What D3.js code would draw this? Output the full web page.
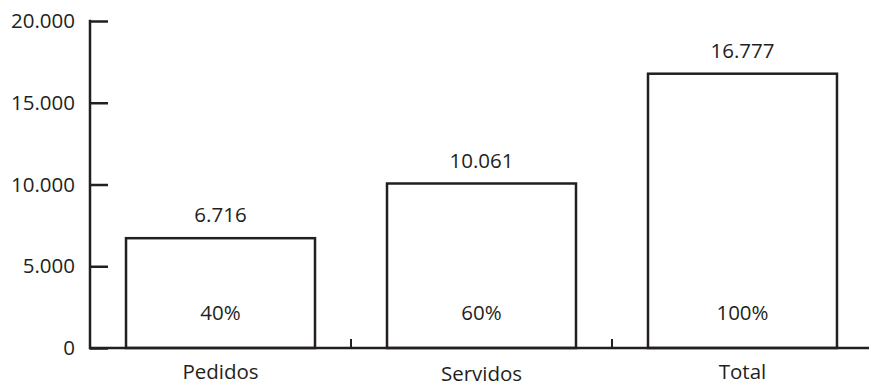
<!DOCTYPE html>
<html>
<head>
<meta charset="utf-8">
<script src="https://cdn.jsdelivr.net/npm/d3@7"></script>
<style>
  html, body { margin: 0; padding: 0; background: #fff; }
  svg { display: block; }
  text { font-family: "Open Sans", sans-serif; fill: #231f20; }
</style>
</head>
<body>
<svg id="chart" width="869" height="388"></svg>
<script>
const categories = ["Pedidos", "Servidos", "Total"];
const values = [6716, 10061, 16777];
const valueLabels = ["6.716", "10.061", "16.777"];
const percentLabels = ["40%", "60%", "100%"];
const yTicks = [0, 5000, 10000, 15000, 20000];
const yTickLabels = ["0", "5.000", "10.000", "15.000", "20.000"];

const svg = d3.select("#chart");
const ink = "#231f20";
const fs = 20.5;
const mLeft = 90, mRight = 873, mTop = 21, mBottom = 348;

const x = d3.scaleBand().domain(categories).range([mLeft, mRight])
  .paddingInner(0.2759).paddingOuter(0.138);
const xStep = d3.scaleBand().domain(categories).range([mLeft, mRight]).padding(0);
const y = d3.scaleLinear().domain([0, 20000]).range([mBottom, mTop]);

// Bars
svg.selectAll("rect.bar").data(values).join("rect")
  .attr("class", "bar")
  .attr("x", (d, i) => x(categories[i]))
  .attr("y", d => y(d))
  .attr("width", x.bandwidth())
  .attr("height", d => y(0) - y(d))
  .attr("fill", "#fff")
  .attr("stroke", ink)
  .attr("stroke-width", 2.5);

// Y axis
const yAxis = d3.axisRight(y).tickValues(yTicks).tickSize(18).tickFormat("");
const gy = svg.append("g").attr("transform", `translate(${mLeft},0)`).call(yAxis);
gy.select(".domain").remove();
gy.selectAll(".tick line").attr("stroke", ink).attr("stroke-width", 2.5);
svg.append("line").attr("x1", mLeft).attr("x2", mLeft).attr("y1", y(20000) - 1.25).attr("y2", y(0) + 1.25)
  .attr("stroke", ink).attr("stroke-width", 2.5);

svg.selectAll("text.ylab").data(yTicks).join("text")
  .attr("class", "ylab")
  .attr("x", 75)
  .attr("y", d => y(d))
  .attr("dy", "0.35em")
  .attr("text-anchor", "end")
  .attr("font-size", fs)
  .text((d, i) => yTickLabels[i]);

// X axis
svg.append("line").attr("x1", mLeft - 1).attr("x2", 869).attr("y1", y(0)).attr("y2", y(0))
  .attr("stroke", ink).attr("stroke-width", 2.5);
svg.selectAll("line.xtick").data(categories.slice(1)).join("line")
  .attr("class", "xtick")
  .attr("x1", d => xStep(d)).attr("x2", d => xStep(d))
  .attr("y1", y(0)).attr("y2", y(0) - 9)
  .attr("stroke", ink).attr("stroke-width", 2);

const xLabelBase = [379, 381, 379];
svg.selectAll("text.xlab").data(categories).join("text")
  .attr("class", "xlab")
  .attr("x", d => x(d) + x.bandwidth() / 2)
  .attr("y", (d, i) => xLabelBase[i])
  .attr("text-anchor", "middle")
  .attr("font-size", fs)
  .text(d => d);

// Value labels
svg.selectAll("text.val").data(values).join("text")
  .attr("class", "val")
  .attr("x", (d, i) => x(categories[i]) + x.bandwidth() / 2)
  .attr("y", d => y(d) - 16)
  .attr("text-anchor", "middle")
  .attr("font-size", fs)
  .text((d, i) => valueLabels[i]);

// Percent labels
svg.selectAll("text.pct").data(values).join("text")
  .attr("class", "pct")
  .attr("x", (d, i) => x(categories[i]) + x.bandwidth() / 2)
  .attr("y", y(0) - 28)
  .attr("text-anchor", "middle")
  .attr("font-size", fs)
  .text((d, i) => percentLabels[i]);
</script>
</body>
</html>
